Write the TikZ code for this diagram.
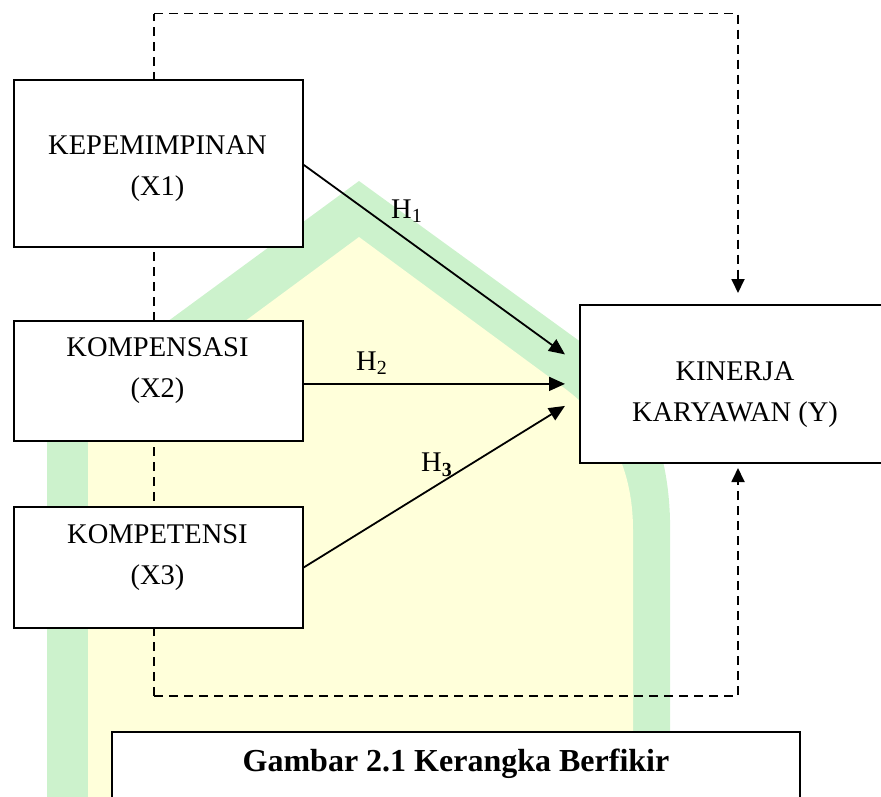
\documentclass[tikz,border=0pt]{standalone}
\usepackage{fontspec}
\setmainfont{Liberation Serif}
\usetikzlibrary{arrows.meta,calc}
\definecolor{wmgreen}{RGB}{204,242,204}
\definecolor{wmyellow}{RGB}{255,255,218}
\begin{document}
\begin{tikzpicture}[x=1pt,y=-1pt,
  box/.style={draw, line width=1.8pt, fill=white, inner sep=0pt, anchor=north west},
  lbl/.style={font=\fontsize{28.5}{41}\selectfont, align=center, inner sep=0pt},
  hyp/.style={font=\fontsize{28.5}{30}\selectfont, inner sep=0pt, anchor=base west},
  arr/.style={line width=1.8pt, -{Triangle[length=16pt,width=14pt]}},
  dsh/.style={line width=1.8pt, dash pattern=on 9pt off 6pt},
  dsharr/.style={dsh, -{Triangle[length=14pt,width=13pt]}},
]
\useasboundingbox (0,0) rectangle (881,796);
\clip (0,0) rectangle (881,796);
% watermark (background)
\fill[wmgreen] (47,800) -- (47,410) -- (359,181) -- (578,340)
  .. controls (640,380) and (668,440) .. (670,520) -- (670,800) -- cycle;
\fill[wmyellow] (88,800) -- (88,437) -- (359,237) -- (560,385)
  .. controls (610,420) and (633,470) .. (633,530) -- (633,800) -- cycle;
% corner coordinates of the dashed frame
\coordinate (tl) at (154,13.5);
\coordinate (tr) at (738,13.5);
\coordinate (bl) at (154,696);
\coordinate (br) at (738,696);
\coordinate (ytop) at (738,293);
\coordinate (ybot) at (738,468);
% dashed connectors (behind boxes)
\draw[dsh] (bl) -- (tl);
\draw[dsharr] (tl) -- (tr) -- (ytop);
\draw[dsharr] (bl) -- (br) -- (ybot);
% boxes
\node[box, minimum width=289pt, minimum height=167pt] (x1) at (13,79) {};
\node[box, minimum width=289pt, minimum height=120pt] (x2) at (13,320) {};
\node[box, minimum width=289pt, minimum height=121pt] (x3) at (13,506) {};
\node[box, minimum width=312pt, minimum height=158pt] (y) at (579,304) {};
% texts
\node[lbl] (t1) at (157.5,169) {KEPEMIMPINAN\\(X1)};
\node[lbl] (t2) at (157.5,371) {KOMPENSASI\\(X2)};
\node[lbl] (t3) at (157.5,558) {KOMPETENSI\\(X3)};
\node[lbl] (ty) at (735,395) {KINERJA\\KARYAWAN (Y)};
% hypothesis arrows
\coordinate (e1) at ($(y.west)+(-14,-29.5)$);
\coordinate (e2) at ($(y.west)+(-14,0)$);
\coordinate (e3) at ($(y.west)+(-14,22)$);
\draw[arr] ($(x1.east)+(0,1.5)$) -- (e1);
\draw[arr] ($(x2.east)+(0,3)$) -- (e2);
\draw[arr] (x3.east) -- (e3);
\node[hyp] (h1) at (391,218) {H\textsubscript{1}};
\node[hyp] (h2) at (356,370) {H\textsubscript{2}};
\node[hyp] (h3) at (421,471.5) {H\textsubscript{\textbf{3}}};
% caption
\draw[line width=1.5pt, fill=white] (112,800) -- (112,732) -- (800,732) -- (800,800);
\node[font=\bfseries\fontsize{32}{36}\selectfont, anchor=base, inner sep=0pt] (cap) at (456,771.5) {Gambar 2.1 Kerangka Berfikir};
\end{tikzpicture}
\end{document}
